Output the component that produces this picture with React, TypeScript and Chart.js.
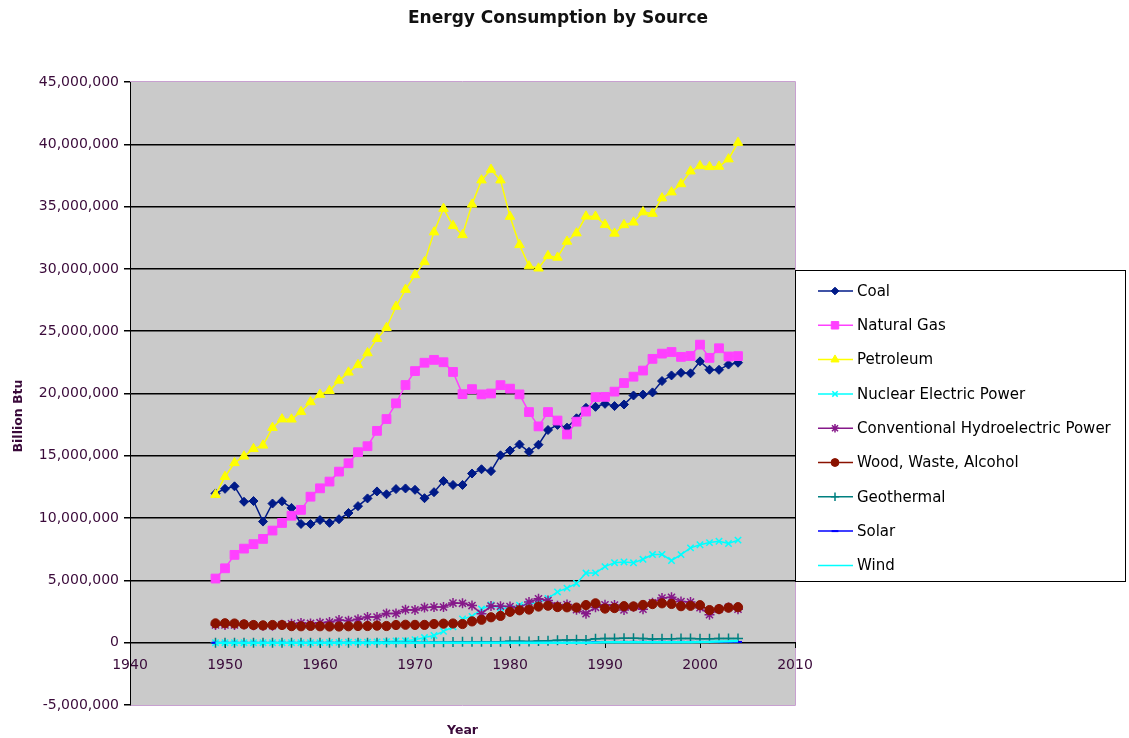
import React, { useEffect, useRef } from "react";
import { Chart, registerables } from "chart.js";
import { drawPoint } from "chart.js/helpers";

Chart.register(...registerables);

// ---- data (quadrillion Btu; 1 quadrillion Btu = 1,000,000 billion Btu) ----
const QUAD_TO_BILLION_BTU = 1000000;

const years = [
  1949, 1950, 1951, 1952, 1953, 1954, 1955, 1956, 1957, 1958, 1959,
  1960, 1961, 1962, 1963, 1964, 1965, 1966, 1967, 1968, 1969,
  1970, 1971, 1972, 1973, 1974, 1975, 1976, 1977, 1978, 1979,
  1980, 1981, 1982, 1983, 1984, 1985, 1986, 1987, 1988, 1989,
  1990, 1991, 1992, 1993, 1994, 1995, 1996, 1997, 1998, 1999,
  2000, 2001, 2002, 2003, 2004,
];

const coal = [
  11.98, 12.35, 12.55, 11.31, 11.37, 9.72, 11.17, 11.35, 10.82, 9.53, 9.52,
  9.84, 9.62, 9.91, 10.41, 10.96, 11.58, 12.14, 11.91, 12.33, 12.38,
  12.27, 11.6, 12.08, 12.97, 12.66, 12.66, 13.58, 13.92, 13.77, 15.04,
  15.42, 15.91, 15.32, 15.89, 17.07, 17.48, 17.26, 18.01, 18.85, 18.93,
  19.17, 18.99, 19.12, 19.84, 19.91, 20.09, 21.0, 21.45, 21.66, 21.62,
  22.58, 21.91, 21.9, 22.32, 22.47,
];

const naturalGas = [
  5.15, 5.97, 7.05, 7.55, 7.91, 8.33, 9.0, 9.61, 10.19, 10.66, 11.72,
  12.39, 12.93, 13.73, 14.4, 15.29, 15.77, 17.0, 17.95, 19.21, 20.68,
  21.8, 22.47, 22.7, 22.51, 21.73, 19.95, 20.35, 19.93, 20.0, 20.67,
  20.39, 19.93, 18.51, 17.36, 18.51, 17.83, 16.71, 17.74, 18.55, 19.71,
  19.73, 20.15, 20.84, 21.35, 21.84, 22.78, 23.2, 23.33, 22.94, 23.01,
  23.92, 22.86, 23.63, 22.97, 23.0,
];

const petroleum = [
  11.88, 13.32, 14.43, 14.96, 15.56, 15.84, 17.26, 17.94, 17.93, 18.53, 19.32,
  19.92, 20.22, 21.05, 21.7, 22.3, 23.25, 24.4, 25.28, 26.98, 28.34,
  29.52, 30.56, 32.95, 34.84, 33.46, 32.73, 35.18, 37.12, 37.97, 37.12,
  34.2, 31.93, 30.23, 30.05, 31.05, 30.92, 32.2, 32.87, 34.22, 34.21,
  33.55, 32.85, 33.53, 33.74, 34.56, 34.44, 35.68, 36.16, 36.82, 37.84,
  38.26, 38.19, 38.22, 38.81, 40.13,
];

const nuclear = [
  0, 0, 0, 0, 0, 0, 0, 0, 0, 0.002, 0.002,
  0.006, 0.02, 0.026, 0.038, 0.04, 0.043, 0.064, 0.088, 0.142, 0.154,
  0.239, 0.413, 0.584, 0.91, 1.272, 1.9, 2.111, 2.702, 3.024, 2.776,
  2.739, 3.008, 3.131, 3.203, 3.553, 4.076, 4.38, 4.754, 5.587, 5.602,
  6.104, 6.422, 6.479, 6.41, 6.694, 7.075, 7.087, 6.597, 7.068, 7.61,
  7.862, 8.033, 8.143, 7.959, 8.232,
];

const hydro = [
  1.43, 1.42, 1.42, 1.47, 1.41, 1.36, 1.36, 1.44, 1.52, 1.59, 1.55,
  1.61, 1.66, 1.82, 1.77, 1.89, 2.06, 2.06, 2.35, 2.35, 2.65,
  2.63, 2.82, 2.86, 2.86, 3.18, 3.16, 2.98, 2.33, 2.94, 2.93,
  2.9, 2.76, 3.27, 3.53, 3.39, 2.97, 3.07, 2.64, 2.33, 2.84,
  3.05, 3.02, 2.62, 2.89, 2.68, 3.21, 3.59, 3.64, 3.3, 3.27,
  2.81, 2.24, 2.69, 2.83, 2.69,
];

const woodWasteAlcohol = [
  1.55, 1.56, 1.54, 1.47, 1.42, 1.39, 1.42, 1.42, 1.33, 1.32, 1.35,
  1.32, 1.3, 1.3, 1.32, 1.34, 1.34, 1.37, 1.34, 1.42, 1.44,
  1.43, 1.43, 1.5, 1.53, 1.54, 1.5, 1.71, 1.84, 2.04, 2.15,
  2.48, 2.6, 2.66, 2.9, 2.97, 2.86, 2.84, 2.82, 3.02, 3.16,
  2.74, 2.78, 2.93, 2.91, 3.03, 3.1, 3.16, 3.11, 2.93, 2.96,
  3.01, 2.62, 2.7, 2.81, 2.85,
];

const geothermal = [
  0, 0, 0, 0, 0, 0, 0, 0, 0, 0, 0,
  0.001, 0.002, 0.002, 0.004, 0.005, 0.004, 0.004, 0.007, 0.009, 0.013,
  0.011, 0.012, 0.031, 0.043, 0.053, 0.07, 0.078, 0.077, 0.064, 0.084,
  0.11, 0.123, 0.105, 0.129, 0.165, 0.198, 0.219, 0.229, 0.217, 0.317,
  0.336, 0.346, 0.349, 0.364, 0.338, 0.294, 0.316, 0.325, 0.328, 0.331,
  0.317, 0.311, 0.328, 0.339, 0.34,
];

const solar = [
  0, 0, 0, 0, 0, 0, 0, 0, 0, 0, 0,
  0, 0, 0, 0, 0, 0, 0, 0, 0, 0,
  0, 0, 0, 0, 0, 0, 0, 0, 0, 0,
  0, 0, 0, 0, 0, 0, 0, 0, 0, 0.055,
  0.06, 0.063, 0.064, 0.066, 0.069, 0.07, 0.071, 0.07, 0.069, 0.068,
  0.066, 0.065, 0.064, 0.064, 0.063,
];

const wind = [
  0, 0, 0, 0, 0, 0, 0, 0, 0, 0, 0,
  0, 0, 0, 0, 0, 0, 0, 0, 0, 0,
  0, 0, 0, 0, 0, 0, 0, 0, 0, 0,
  0, 0, 0, 0, 0, 0, 0, 0, 0, 0.022,
  0.029, 0.031, 0.03, 0.031, 0.036, 0.033, 0.033, 0.034, 0.031, 0.046,
  0.057, 0.07, 0.105, 0.115, 0.142,
];

const seriesNames = [
  "Coal",
  "Natural Gas",
  "Petroleum",
  "Nuclear Electric Power",
  "Conventional Hydroelectric Power",
  "Wood, Waste, Alcohol",
  "Geothermal",
  "Solar",
  "Wind",
];
const seriesValues = [coal, naturalGas, petroleum, nuclear, hydro, woodWasteAlcohol, geothermal, solar, wind];

const xTickMin = 1940;
const xTickMax = 2010;
const xTickStep = 10;
const yTickMin = -5000000;
const yTickMax = 45000000;
const yTickStep = 5000000;

const chartTitle = "Energy Consumption by Source";
const xTitle = "Year";
const yTitle = "Billion Btu";

// ---- styles ----
const FONT = "'DejaVu Sans', 'Liberation Sans', Arial, sans-serif";
const TEXT = "#3a0a3a";
const PLOT_BG = "#cacaca";
const PLOT_EDGE = "#c8a0d0";

type Style = {
  color: string;
  pointStyle: any;
  radius: number;
  pointBorderWidth: number;
  lineWidth: number;
};

const styles: Style[] = [
  { color: "#001a88", pointStyle: "rectRot", radius: 4.5, pointBorderWidth: 1, lineWidth: 1.5 },
  { color: "#ff40ff", pointStyle: "rect", radius: 6.2, pointBorderWidth: 1, lineWidth: 1.5 },
  { color: "#ffff00", pointStyle: "triangle", radius: 5.5, pointBorderWidth: 1, lineWidth: 1.5 },
  { color: "#00ffff", pointStyle: "crossRot", radius: 4.5, pointBorderWidth: 1.5, lineWidth: 1.5 },
  { color: "#86198a", pointStyle: "star", radius: 5, pointBorderWidth: 1.5, lineWidth: 1.5 },
  { color: "#8a1200", pointStyle: "circle", radius: 4.6, pointBorderWidth: 1, lineWidth: 1.5 },
  { color: "#008080", pointStyle: "cross", radius: 5, pointBorderWidth: 1.5, lineWidth: 1.5 },
  { color: "#0000ff", pointStyle: "line", radius: 4, pointBorderWidth: 2, lineWidth: 1.5 },
  { color: "#00ffff", pointStyle: false, radius: 0, pointBorderWidth: 0, lineWidth: 2.5 },
];

const decorPlugin = {
  id: "decor",
  beforeDraw(chart: any) {
    const { ctx, chartArea } = chart;
    ctx.save();
    ctx.fillStyle = "#ffffff";
    ctx.fillRect(0, 0, chart.width, chart.height);
    ctx.fillStyle = PLOT_BG;
    ctx.fillRect(chartArea.left, chartArea.top, chartArea.right - chartArea.left, chartArea.bottom - chartArea.top);
    ctx.strokeStyle = PLOT_EDGE;
    ctx.lineWidth = 1;
    ctx.beginPath();
    ctx.moveTo(chartArea.left, chartArea.top - 0.5);
    ctx.lineTo(chartArea.right + 0.5, chartArea.top - 0.5);
    ctx.lineTo(chartArea.right + 0.5, chartArea.bottom + 0.5);
    ctx.lineTo(chartArea.left, chartArea.bottom + 0.5);
    ctx.stroke();
    ctx.restore();
  },
  afterDraw(chart: any) {
    const { ctx, chartArea } = chart;
    ctx.save();
    // chart title
    ctx.fillStyle = "#111111";
    ctx.font = `bold 17px ${FONT}`;
    ctx.textAlign = "center";
    ctx.textBaseline = "middle";
    ctx.fillText(chartTitle, 558, 19);
    // axis titles
    ctx.fillStyle = TEXT;
    ctx.font = `bold 12.5px ${FONT}`;
    ctx.fillText(xTitle, (chartArea.left + chartArea.right) / 2, 731);
    ctx.save();
    ctx.translate(19, 416);
    ctx.rotate(-Math.PI / 2);
    ctx.fillText(yTitle, 0, 0);
    ctx.restore();

    // legend
    const lx = chartArea.right;
    const ly = 270;
    const lw = 331;
    const lh = 312;
    ctx.fillStyle = "#ffffff";
    ctx.fillRect(lx, ly, lw, lh);
    ctx.strokeStyle = "#000000";
    ctx.lineWidth = 1;
    ctx.strokeRect(lx + 0.5, ly + 0.5, lw - 1, lh - 1);
    ctx.font = `15px ${FONT}`;
    ctx.textAlign = "left";
    ctx.textBaseline = "middle";
    seriesNames.forEach((name, i) => {
      const st = styles[i];
      const y = ly + 21 + i * 34.3;
      ctx.strokeStyle = st.color;
      ctx.lineWidth = 1.5;
      ctx.beginPath();
      ctx.moveTo(lx + 23, y);
      ctx.lineTo(lx + 58, y);
      ctx.stroke();
      if (st.pointStyle) {
        ctx.fillStyle = st.color;
        ctx.strokeStyle = st.color;
        ctx.lineWidth = st.pointBorderWidth;
        drawPoint(ctx, { pointStyle: st.pointStyle, radius: st.radius * 0.85, rotation: 0, borderWidth: st.pointBorderWidth }, lx + 40, y);
      }
      ctx.fillStyle = "#000000";
      ctx.fillText(name, lx + 62, y + 1);
    });
    ctx.restore();
  },
};

export default function App() {
  const canvasRef = useRef<HTMLCanvasElement | null>(null);

  useEffect(() => {
    if (!canvasRef.current) return;
    const datasets = seriesNames.map((name, i) => {
      const st = styles[i];
      return {
        label: name,
        data: years.map((yr, j) => ({ x: yr, y: seriesValues[i][j] * QUAD_TO_BILLION_BTU })),
        borderColor: st.color,
        backgroundColor: st.color,
        borderWidth: st.lineWidth,
        pointStyle: st.pointStyle,
        pointRadius: st.radius,
        pointBorderWidth: st.pointBorderWidth,
        pointBackgroundColor: st.color,
        pointBorderColor: st.color,
        pointHoverRadius: st.radius,
        tension: 0,
        fill: false,
        order: seriesNames.length - i,
      };
    });

    const chart = new Chart(canvasRef.current, {
      type: "line",
      data: { datasets },
      plugins: [decorPlugin],
      options: {
        animation: false,
        responsive: false,
        maintainAspectRatio: false,
        layout: { padding: { left: 0, right: 334, top: 82, bottom: 33 } },
        plugins: {
          legend: { display: false },
          tooltip: { enabled: false },
          title: { display: false },
        },
        scales: {
          x: {
            type: "linear",
            min: xTickMin,
            max: xTickMax,
            position: { y: 0 } as any,
            ticks: {
              stepSize: xTickStep,
              autoSkip: false,
              maxRotation: 0,
              color: TEXT,
              padding: 9,
              font: { family: FONT, size: 14 },
              callback: (v: any) => String(v),
            },
            grid: { drawOnChartArea: false, drawTicks: true, tickLength: 5, color: "#000000" },
            border: { display: true, color: "#000000", width: 1 },
          },
          y: {
            type: "linear",
            min: yTickMin,
            max: yTickMax,
            afterFit: (scale: any) => {
              scale.width = 130;
            },
            ticks: {
              stepSize: yTickStep,
              color: TEXT,
              padding: 5,
              font: { family: FONT, size: 14 },
              callback: (v: any) => Number(v).toLocaleString("en-US"),
            },
            grid: {
              color: (c: any) =>
                c.tick && (c.tick.value === yTickMin || c.tick.value === yTickMax) ? "rgba(0,0,0,0)" : "#000000",
              tickColor: "#000000",
              lineWidth: 1.5,
              tickLength: 6,
            },
            border: { display: true, color: "#000000", width: 1 },
          },
        },
      },
    });
    return () => chart.destroy();
  }, []);

  return (
    <div style={{ position: "fixed", left: 0, top: 0, width: 1129, height: 738, background: "#fff" }}>
      <canvas ref={canvasRef} width={1129} height={738} style={{ width: 1129, height: 738 }} />
    </div>
  );
}
